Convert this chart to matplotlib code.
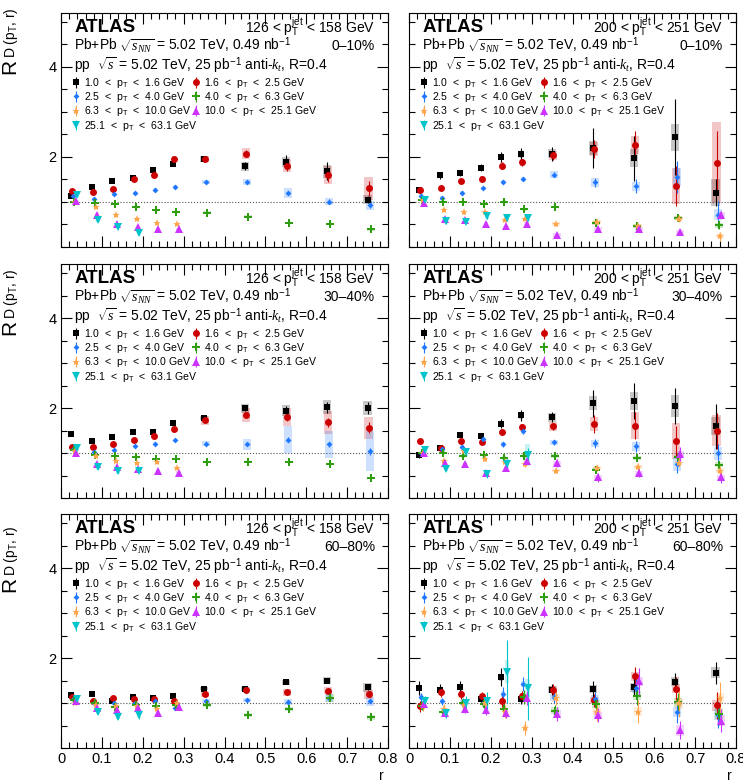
import matplotlib
matplotlib.use("Agg")
import matplotlib.pyplot as plt
from matplotlib.ticker import MultipleLocator, FuncFormatter
import numpy as np

plt.rcParams['font.family'] = ['Liberation Sans', 'DejaVu Sans']
plt.rcParams['mathtext.fontset'] = 'custom'
plt.rcParams['mathtext.rm'] = 'Liberation Sans'
plt.rcParams['mathtext.it'] = 'Liberation Serif:italic'
plt.rcParams['mathtext.bf'] = 'Liberation Sans:bold'

# r bins
r_centers = [0.025, 0.075, 0.125, 0.175, 0.225, 0.275, 0.35, 0.45, 0.55, 0.65, 0.75]
bin_widths = [0.05, 0.05, 0.05, 0.05, 0.05, 0.05, 0.1, 0.1, 0.1, 0.1, 0.1]

series_labels = [r'1.0  <  p$_{\mathrm{T}}$  <  1.6 GeV', r'1.6  <  p$_{\mathrm{T}}$  <  2.5 GeV',
                 r'2.5  <  p$_{\mathrm{T}}$  <  4.0 GeV', r'4.0  <  p$_{\mathrm{T}}$  <  6.3 GeV',
                 r'6.3  <  p$_{\mathrm{T}}$  <  10.0 GeV', r'10.0  <  p$_{\mathrm{T}}$  <  25.1 GeV',
                 r'25.1  <  p$_{\mathrm{T}}$  <  63.1 GeV']
colors = ['#000000', '#cc0000', '#1f78ff', '#2e9e10', '#ffa64d', '#cc33ff', '#00c4cc']
markers = ['s', 'o', 'D', 'P', '*', '^', 'v']
msizes = [4.5, 5, 3, 6, 6, 5.5, 5.5]

jet_labels = [r'126 < p$_{\mathrm{T}}^{\mathrm{jet}}$ < 158 GeV', r'200 < p$_{\mathrm{T}}^{\mathrm{jet}}$ < 251 GeV']
cent_labels = ['0–10%', '30–40%', '60–80%']

# ---- 126-158 GeV, 0-10%
y_j126_c0 = [[1.13, 1.33, 1.46, 1.53, 1.72, 1.84, 1.95, 1.79, 1.89, 1.68, 1.05],
             [1.25, 1.22, 1.29, 1.50, 1.59, 1.96, 1.96, 2.07, 1.81, 1.59, 1.30],
             [1.13, 1.07, 1.18, 1.19, 1.27, 1.33, 1.44, 1.44, 1.20, 1.01, 0.93],
             [1.01, 0.98, 0.95, 0.88, 0.83, 0.78, 0.76, 0.67, 0.53, 0.51, 0.39],
             [1.00, 0.89, 0.72, 0.63, 0.53, 0.50],
             [1.03, 0.72, 0.51, 0.44, 0.39, 0.39],
             [1.15, 0.61, 0.44, 0.31]]
stat_j126_c0 = [[0.02, 0.02, 0.02, 0.03, 0.03, 0.04, 0.06, 0.09, 0.15, 0.2, 0.08],
                [0.02, 0.02, 0.02, 0.02, 0.03, 0.04, 0.06, 0.08, 0.12, 0.15, 0.17],
                [0.01, 0.01, 0.01, 0.01, 0.02, 0.02, 0.03, 0.04, 0.05, 0.05, 0.06],
                [0.01, 0.01, 0.01, 0.01, 0.01, 0.01, 0.02, 0.02, 0.02, 0.02, 0.02],
                [0.01, 0.01, 0.01, 0.01, 0.02, 0.02],
                [0.02, 0.02, 0.02, 0.02, 0.03, 0.03],
                [0.03, 0.04, 0.04, 0.05]]
sys_j126_c0 = [[0.03, 0.03, 0.03, 0.04, 0.04, 0.05, 0.07, 0.1, 0.12, 0.15, 0.1],
               [0.03, 0.03, 0.03, 0.04, 0.04, 0.07, 0.07, 0.12, 0.15, 0.2, 0.25],
               [0.02, 0.02, 0.02, 0.03, 0.04, 0.04, 0.05, 0.07, 0.12, 0.07, 0.1],
               [0.02, 0.02, 0.02, 0.02, 0.02, 0.02, 0.03, 0.03, 0.03, 0.03, 0.03],
               [0.02, 0.02, 0.03, 0.03, 0.03, 0.03],
               [0.02, 0.03, 0.03, 0.03, 0.03, 0.03],
               [0.03, 0.05, 0.05, 0.05]]

# ---- 200-251 GeV, 0-10%
y_j200_c0 = [[1.27, 1.59, 1.64, 1.76, 2.00, 2.06, 2.07, 2.20, 1.97, 2.44, 1.20],
             [1.26, 1.30, 1.47, 1.51, 1.81, 1.88, 2.04, 2.18, 2.27, 1.35, 1.87],
             [1.13, 1.09, 1.20, 1.30, 1.44, 1.51, 1.61, 1.44, 1.35, 1.55, 0.72],
             [1.05, 1.00, 1.00, 0.96, 1.01, 0.84, 0.89, 0.53, 0.47, 0.64, 0.48],
             [1.05, 0.83, 0.77, 0.77, 0.61, 0.63, 0.51, 0.55, 0.46, 0.63, 0.24],
             [0.98, 0.63, 0.61, 0.52, 0.46, 0.52, 0.27, 0.40, 0.40, 0.33, 0.72],
             [1.05, 0.57, 0.55, 0.68, 0.64, 0.64]]
stat_j200_c0 = [[0.06, 0.07, 0.06, 0.08, 0.12, 0.13, 0.15, 0.45, 0.5, 0.85, 0.3],
                [0.04, 0.04, 0.05, 0.05, 0.07, 0.08, 0.1, 0.2, 0.3, 0.45, 0.7],
                [0.03, 0.03, 0.03, 0.04, 0.04, 0.04, 0.06, 0.1, 0.15, 0.35, 0.3],
                [0.03, 0.03, 0.03, 0.03, 0.03, 0.04, 0.04, 0.05, 0.05, 0.06, 0.08],
                [0.03, 0.03, 0.03, 0.03, 0.04, 0.04, 0.04, 0.05, 0.06, 0.08, 0.1],
                [0.03, 0.04, 0.04, 0.04, 0.05, 0.05, 0.05, 0.06, 0.06, 0.06, 0.08],
                [0.04, 0.05, 0.05, 0.05, 0.06, 0.06]]
sys_j200_c0 = [[0.05, 0.05, 0.05, 0.06, 0.07, 0.08, 0.1, 0.15, 0.2, 0.3, 0.3],
               [0.05, 0.05, 0.05, 0.06, 0.07, 0.08, 0.1, 0.15, 0.2, 0.4, 0.9],
               [0.04, 0.04, 0.04, 0.04, 0.05, 0.05, 0.07, 0.1, 0.1, 0.2, 0.12],
               [0.03, 0.03, 0.03, 0.03, 0.03, 0.03, 0.03, 0.04, 0.04, 0.05, 0.05],
               [0.03, 0.03, 0.03, 0.03, 0.03, 0.03, 0.04, 0.04, 0.04, 0.05, 0.05],
               [0.03, 0.03, 0.03, 0.03, 0.03, 0.03, 0.04, 0.04, 0.04, 0.05, 0.05],
               [0.04, 0.05, 0.05, 0.05, 0.06, 0.06]]

# ---- 126-158 GeV, 30-40%
y_j126_c1 = [[1.43, 1.26, 1.36, 1.46, 1.46, 1.67, 1.78, 2.00, 1.94, 2.02, 2.00],
             [1.13, 1.13, 1.19, 1.28, 1.37, 1.54, 1.73, 1.85, 1.79, 1.68, 1.56],
             [1.10, 1.02, 1.07, 1.16, 1.21, 1.28, 1.21, 1.19, 1.30, 1.19, 1.04],
             [1.06, 0.96, 0.94, 0.91, 0.87, 0.87, 0.80, 0.79, 0.81, 0.76, 0.44],
             [1.04, 0.93, 0.83, 0.78, 0.80, 0.67],
             [1.00, 0.76, 0.69, 0.64, 0.61, 0.56],
             [1.11, 0.68, 0.59, 0.61]]
stat_j126_c1 = [[0.02, 0.02, 0.02, 0.02, 0.02, 0.03, 0.04, 0.07, 0.1, 0.12, 0.13],
                [0.01, 0.01, 0.02, 0.02, 0.02, 0.03, 0.04, 0.06, 0.08, 0.1, 0.12],
                [0.01, 0.01, 0.01, 0.01, 0.02, 0.02, 0.03, 0.04, 0.05, 0.06, 0.08],
                [0.01, 0.01, 0.01, 0.01, 0.02, 0.02, 0.02, 0.02, 0.02, 0.02, 0.02],
                [0.02, 0.02, 0.02, 0.02, 0.02, 0.02],
                [0.02, 0.02, 0.02, 0.02, 0.02, 0.02],
                [0.03, 0.03, 0.03, 0.03]]
sys_j126_c1 = [[0.03, 0.03, 0.03, 0.03, 0.03, 0.04, 0.05, 0.1, 0.12, 0.15, 0.15],
               [0.03, 0.03, 0.03, 0.03, 0.04, 0.05, 0.1, 0.15, 0.2, 0.25, 0.25],
               [0.02, 0.02, 0.02, 0.02, 0.03, 0.04, 0.05, 0.12, 0.3, 0.3, 0.45],
               [0.02, 0.02, 0.02, 0.02, 0.02, 0.02, 0.02, 0.02, 0.02, 0.02, 0.02],
               [0.03, 0.03, 0.03, 0.03, 0.03, 0.03],
               [0.03, 0.03, 0.03, 0.03, 0.03, 0.03],
               [0.04, 0.06, 0.05, 0.05]]

# ---- 200-251 GeV, 30-40%
y_j200_c1 = [[0.96, 1.11, 1.41, 1.37, 1.65, 1.84, 1.80, 2.11, 2.15, 2.05, 1.59],
             [1.26, 1.11, 1.26, 1.24, 1.46, 1.58, 1.59, 1.64, 1.61, 1.26, 1.50],
             [0.99, 1.10, 1.13, 1.32, 1.19, 1.48, 1.24, 1.22, 1.15, 0.76, 0.99],
             [0.99, 1.01, 0.94, 0.96, 0.89, 0.93, 0.93, 0.63, 0.89, 0.91, 0.74],
             [1.01, 0.83, 1.04, 0.87, 0.81, 0.76, 0.61, 0.67, 0.69, 0.78, 0.61],
             [1.01, 0.78, 0.76, 0.56, 0.67, 0.83, 0.78, 0.46, 0.56, 0.98, 0.46],
             [1.06, 0.65, 1.02, 0.53, 0.76, 0.96]]
stat_j200_c1 = [[0.07, 0.05, 0.06, 0.07, 0.1, 0.12, 0.12, 0.3, 0.4, 0.4, 0.5],
                [0.05, 0.04, 0.05, 0.05, 0.06, 0.07, 0.08, 0.2, 0.3, 0.35, 0.4],
                [0.04, 0.04, 0.04, 0.05, 0.05, 0.06, 0.06, 0.1, 0.12, 0.2, 0.2],
                [0.04, 0.04, 0.04, 0.04, 0.05, 0.05, 0.05, 0.06, 0.07, 0.08, 0.08],
                [0.04, 0.04, 0.05, 0.05, 0.06, 0.06, 0.06, 0.07, 0.08, 0.1, 0.1],
                [0.04, 0.05, 0.05, 0.05, 0.06, 0.06, 0.08, 0.1, 0.1, 0.15, 0.12],
                [0.05, 0.06, 0.08, 0.08, 0.1, 0.15]]
sys_j200_c1 = [[0.04, 0.04, 0.05, 0.05, 0.06, 0.08, 0.1, 0.15, 0.2, 0.25, 0.2],
               [0.04, 0.04, 0.04, 0.05, 0.06, 0.07, 0.1, 0.15, 0.3, 0.4, 0.35],
               [0.03, 0.03, 0.04, 0.04, 0.05, 0.06, 0.06, 0.08, 0.1, 0.15, 0.15],
               [0.04, 0.04, 0.04, 0.04, 0.04, 0.04, 0.04, 0.04, 0.05, 0.05, 0.05],
               [0.04, 0.04, 0.04, 0.04, 0.04, 0.04, 0.04, 0.05, 0.05, 0.05, 0.05],
               [0.04, 0.04, 0.04, 0.04, 0.04, 0.04, 0.05, 0.05, 0.05, 0.06, 0.06],
               [0.05, 0.05, 0.08, 0.06, 0.1, 0.25]]

# ---- 126-158 GeV, 60-80%
y_j126_c2 = [[1.17, 1.19, 1.05, 1.13, 1.11, 1.15, 1.32, 1.31, 1.46, 1.50, 1.35],
             [1.13, 1.04, 1.11, 1.09, 1.09, 1.04, 1.19, 1.30, 1.24, 1.27, 1.19],
             [1.10, 0.99, 0.99, 0.99, 1.04, 0.89, 1.04, 1.07, 1.02, 1.11, 1.04],
             [1.07, 0.99, 0.91, 0.96, 0.93, 0.96, 0.96, 0.74, 0.87, 1.11, 0.68],
             [1.00, 0.96, 0.94, 0.94, 0.87, 0.99],
             [1.04, 0.90, 0.85, 0.89, 0.78, 0.91],
             [1.09, 0.81, 0.70, 0.74]]
stat_j126_c2 = [[0.02, 0.02, 0.02, 0.02, 0.02, 0.02, 0.03, 0.03, 0.04, 0.04, 0.06],
                [0.02, 0.02, 0.02, 0.02, 0.02, 0.02, 0.03, 0.03, 0.04, 0.05, 0.06],
                [0.02, 0.02, 0.02, 0.02, 0.02, 0.02, 0.03, 0.03, 0.04, 0.04, 0.05],
                [0.02, 0.02, 0.02, 0.02, 0.02, 0.02, 0.03, 0.03, 0.04, 0.05, 0.05],
                [0.02, 0.03, 0.03, 0.03, 0.03, 0.03],
                [0.03, 0.03, 0.03, 0.04, 0.04, 0.04],
                [0.04, 0.05, 0.06, 0.1]]
sys_j126_c2 = [[0.03, 0.03, 0.03, 0.03, 0.03, 0.03, 0.04, 0.05, 0.06, 0.07, 0.1],
               [0.03, 0.03, 0.03, 0.03, 0.03, 0.03, 0.05, 0.06, 0.08, 0.08, 0.1],
               [0.03, 0.03, 0.03, 0.03, 0.03, 0.03, 0.04, 0.05, 0.06, 0.08, 0.1],
               [0.03, 0.03, 0.03, 0.03, 0.03, 0.03, 0.04, 0.04, 0.05, 0.08, 0.06],
               [0.03, 0.03, 0.03, 0.03, 0.03, 0.03],
               [0.03, 0.04, 0.04, 0.04, 0.04, 0.04],
               [0.05, 0.06, 0.06, 0.08]]

# ---- 200-251 GeV, 60-80%
y_j200_c2 = [[1.33, 1.30, 1.36, 1.09, 1.57, 1.10, 1.30, 1.31, 1.35, 1.47, 1.67],
             [0.93, 1.24, 1.20, 1.15, 1.04, 1.15, 1.30, 1.06, 1.59, 1.32, 0.95],
             [1.13, 1.04, 1.01, 1.01, 1.20, 1.42, 1.13, 1.09, 1.33, 0.80, 0.74],
             [0.94, 0.81, 1.01, 0.98, 0.87, 1.13, 0.83, 0.98, 1.16, 1.02, 0.76],
             [0.93, 0.87, 0.96, 1.00, 0.81, 0.44, 1.11, 0.81, 0.81, 0.99, 1.11],
             [0.98, 0.78, 0.87, 0.84, 0.78, 1.11, 0.76, 0.73, 1.48, 0.39, 0.61],
             [1.05, 0.78, 1.01, 1.04, 1.70, 1.33]]
stat_j200_c2 = [[0.15, 0.12, 0.12, 0.1, 0.2, 0.12, 0.12, 0.18, 0.2, 0.2, 0.25],
                [0.12, 0.1, 0.1, 0.1, 0.12, 0.12, 0.12, 0.15, 0.2, 0.25, 0.3],
                [0.1, 0.08, 0.08, 0.1, 0.15, 0.15, 0.12, 0.15, 0.2, 0.25, 0.3],
                [0.1, 0.08, 0.1, 0.1, 0.12, 0.15, 0.12, 0.15, 0.2, 0.2, 0.25],
                [0.1, 0.1, 0.1, 0.1, 0.15, 0.15, 0.15, 0.2, 0.25, 0.3, 0.35],
                [0.1, 0.1, 0.1, 0.1, 0.12, 0.15, 0.15, 0.15, 0.3, 0.2, 0.25],
                [0.1, 0.12, 0.15, 0.2, 0.7, 0.7]]
sys_j200_c2 = [[0.06, 0.06, 0.06, 0.06, 0.07, 0.07, 0.08, 0.08, 0.1, 0.1, 0.12],
               [0.06, 0.06, 0.06, 0.06, 0.07, 0.07, 0.08, 0.08, 0.1, 0.1, 0.12],
               [0.06, 0.06, 0.06, 0.06, 0.07, 0.07, 0.08, 0.08, 0.1, 0.12, 0.12],
               [0.06, 0.06, 0.06, 0.06, 0.07, 0.07, 0.08, 0.08, 0.1, 0.1, 0.12],
               [0.06, 0.06, 0.06, 0.06, 0.07, 0.07, 0.08, 0.08, 0.1, 0.12, 0.12],
               [0.06, 0.06, 0.06, 0.06, 0.07, 0.07, 0.08, 0.08, 0.1, 0.12, 0.12],
               [0.06, 0.08, 0.08, 0.1, 0.25, 0.2]]

panels = [[(y_j126_c0, stat_j126_c0, sys_j126_c0), (y_j200_c0, stat_j200_c0, sys_j200_c0)],
          [(y_j126_c1, stat_j126_c1, sys_j126_c1), (y_j200_c1, stat_j200_c1, sys_j200_c1)],
          [(y_j126_c2, stat_j126_c2, sys_j126_c2), (y_j200_c2, stat_j200_c2, sys_j200_c2)]]


def tick_fmt(v, pos):
    if abs(v) < 1e-9:
        return '0'
    return '%.1f' % v


def draw_panel(ax, ys, stats, syss, jet_label, cent_label):
    ax.axhline(1.0, color='#555555', ls=':', lw=0.8, zorder=0)
    handles = []
    for i in range(len(ys)):
        n = len(ys[i])
        x = np.array(r_centers[:n]) + i * 0.0025
        w = np.array(bin_widths[:n]) * 0.2
        y = np.array(ys[i])
        st = np.array(stats[i])
        sy = np.array(syss[i])
        ax.bar(x, 2 * sy, bottom=y - sy, width=w, color=colors[i], alpha=0.22,
               linewidth=0, zorder=1)
        h = ax.errorbar(x, y, yerr=st, fmt=markers[i], color=colors[i], ms=msizes[i],
                        mew=0, elinewidth=0.8, capsize=1.3, capthick=0.8, zorder=3,
                        label=series_labels[i])
        handles.append(h)

    ax.set_xlim(0, 0.8)
    ax.set_ylim(0, 5.2)
    ax.xaxis.set_major_locator(MultipleLocator(0.1))
    ax.xaxis.set_minor_locator(MultipleLocator(0.02))
    ax.xaxis.set_major_formatter(FuncFormatter(tick_fmt))
    ax.set_yticks([2, 4])
    ax.yaxis.set_minor_locator(MultipleLocator(0.5))
    ax.tick_params(which='both', direction='in', top=True, right=True, labelsize=10.5, pad=3)
    ax.tick_params(which='major', length=8, width=0.8)
    ax.tick_params(which='minor', length=4, width=0.8)
    for s in ax.spines.values():
        s.set_linewidth(0.8)

    ax.text(0.04, 0.917, 'ATLAS', transform=ax.transAxes, fontsize=13.5,
            fontweight='bold', va='baseline', ha='left')
    ax.text(0.96, 0.914, jet_label, transform=ax.transAxes, fontsize=10,
            va='baseline', ha='right')
    ax.text(0.04, 0.840, r'Pb+Pb $\sqrt{s_{NN}}$ = 5.02 TeV, 0.49 nb$^{-1}$',
            transform=ax.transAxes, fontsize=10, va='baseline', ha='left')
    ax.text(0.96, 0.840, cent_label, transform=ax.transAxes, fontsize=10,
            va='baseline', ha='right')
    ax.text(0.04, 0.757, r'pp  $\sqrt{s}$ = 5.02 TeV, 25 pb$^{-1}$ anti-$k_{t}$, R=0.4',
            transform=ax.transAxes, fontsize=10, va='baseline', ha='left')

    # two legend columns, filled row by row like the original
    leg_kw = dict(loc='upper left', frameon=False, fontsize=7.6, handlelength=1.1,
                  handletextpad=0.2, labelspacing=0.02, borderaxespad=0, borderpad=0)
    col1 = [0, 2, 4, 6]
    col2 = [1, 3, 5]
    leg1 = ax.legend([handles[k] for k in col1], [series_labels[k] for k in col1],
                     bbox_to_anchor=(0.028, 0.731), **leg_kw)
    ax.add_artist(leg1)
    ax.legend([handles[k] for k in col2], [series_labels[k] for k in col2],
              bbox_to_anchor=(0.395, 0.731), **leg_kw)


fig = plt.figure(figsize=(7.43, 7.83), dpi=100)
lefts = [61 / 743, 409 / 743]
tops = [13, 264, 514]
width = 327 / 743
height = 234 / 783
label_bottoms = [74, 335, 592]

for row in range(3):
    for col in range(2):
        ax = fig.add_axes([lefts[col], 1 - (tops[row] + 234) / 783, width, height])
        ys, stats, syss = panels[row][col]
        draw_panel(ax, ys, stats, syss, jet_labels[col], cent_labels[row])
        if row < 2:
            ax.set_xticklabels([])
        else:
            fig.text(ax.get_position().x1 - 7 / 743, 0.004, 'r', fontsize=10,
                     ha='center', va='baseline')
        if col == 1:
            ax.set_yticklabels([])

    y0 = 1 - label_bottoms[row] / 783
    xb = 15 / 743
    fig.text(xb, y0, 'R', fontsize=15, rotation=90, rotation_mode='anchor',
             ha='left', va='baseline')
    fig.text(xb, y0 + 16 / 783, r'D (p$_{\mathrm{T}}$, r)', fontsize=10, rotation=90,
             rotation_mode='anchor', ha='left', va='baseline')

fig.savefig('out.png', dpi=100)
